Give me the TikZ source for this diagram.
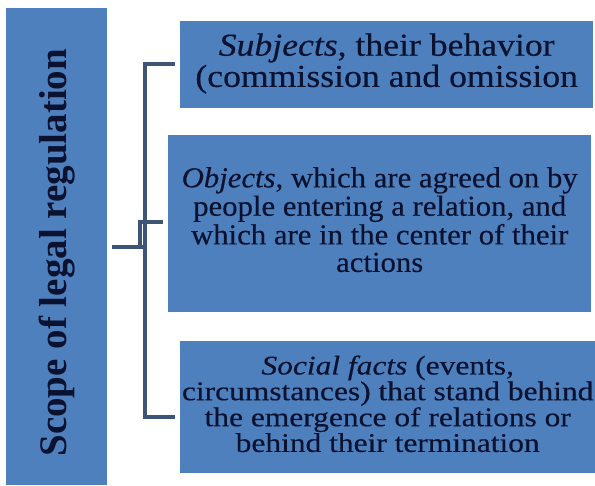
\documentclass[tikz,border=0pt]{standalone}
\usepackage{fontspec}
\usepackage{graphicx}
\setmainfont{Liberation Serif}
\definecolor{boxblue}{HTML}{4F80BE}
\definecolor{inkblue}{HTML}{0A1230}
\definecolor{linecol}{HTML}{3E5575}
\newcommand\bxt[4]{\scalebox{#1}[1]{\fontsize{#2}{#3}\selectfont\addfontfeature{FakeBold=0.4}\begin{tabular}{@{}c@{}}#4\end{tabular}}}
\tikzset{
  blk/.style={draw=none, fill=boxblue, inner sep=0pt, text=inkblue, anchor=north west},
  conn/.style={draw=linecol, line width=3.5pt}
}
\begin{document}
\begin{tikzpicture}[x=1pt,y=-1pt]
\useasboundingbox (0,0) rectangle (595,486);
\node[blk, minimum width=101pt, minimum height=477pt] (scope) at (6,8)
  {\rotatebox{90}{\fontsize{39}{44}\selectfont\bfseries\hspace*{-12pt}Scope of legal regulation}};
\node[blk, minimum width=413pt, minimum height=87pt] (subj) at (180,21)
  {\raisebox{-2pt}{\bxt{1.115}{32}{30}{\textit{Subjects}, their behavior\\(commission and omission}}};
\node[blk, minimum width=423pt, minimum height=177pt] (obj) at (168,135)
  {\bxt{1.06}{29}{27.5}{\textit{Objects}, which are agreed on by\\people entering a relation, and\\which are in the center of their\\actions}};
\node[blk, minimum width=415pt, minimum height=132pt] (soc) at (180,341)
  {\bxt{1.165}{27}{23.3}{\textit{Social facts} (events,\\circumstances) that stand behind\\the emergence of relations or\\behind their termination}};
\coordinate[xshift=-5pt] (st) at (subj.west |- 0,64);
\coordinate[xshift=-5pt] (sb) at (soc.west |- 0,417);
\coordinate[xshift=-5pt] (om) at (obj.west |- 0,222);
\coordinate[xshift=5pt] (lm) at (scope.east |- 0,247);
\draw[conn] (st) -- (145,64) -- (145,417) -- (sb);
\draw[conn] (lm) -- (145,247);
\draw[conn] (140,247) |- (om);
\end{tikzpicture}
\end{document}
